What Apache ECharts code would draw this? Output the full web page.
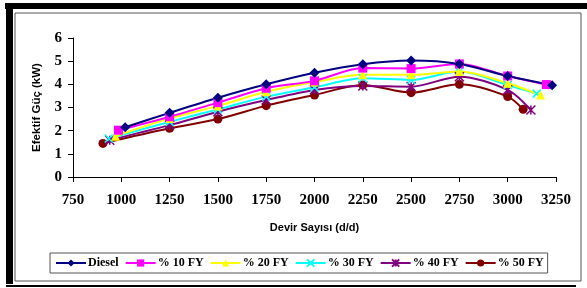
<!DOCTYPE html>
<html>
<head>
<meta charset="utf-8">
<script src="https://cdn.jsdelivr.net/npm/echarts@6/dist/echarts.min.js"></script>
<style>
  html, body { margin: 0; padding: 0; background: #fff; }
  #chart { width: 587px; height: 288px; }
</style>
</head>
<body>
<div id="chart"></div>
<script>
// devir sayisi (d/d) for each series
const rpmDiesel = [1020, 1250, 1500, 1750, 2000, 2250, 2500, 2750, 3000, 3230];
const rpm10 = [985, 1250, 1500, 1750, 2000, 2250, 2500, 2750, 3000, 3200];
const rpm20 = [970, 1250, 1500, 1750, 2000, 2250, 2500, 2750, 3000, 3170];
const rpm30 = [935, 1250, 1500, 1750, 2000, 2250, 2500, 2750, 3000, 3150];
const rpm40 = [940, 1250, 1500, 1750, 2000, 2250, 2500, 2750, 3000, 3120];
const rpm50 = [905, 1250, 1500, 1750, 2000, 2250, 2500, 2750, 3000, 3080];

// efektif guc (kW)
const powerDiesel = [2.15, 2.77, 3.42, 4.0, 4.5, 4.87, 5.03, 4.88, 4.36, 3.96];
const power10 = [2.02, 2.6, 3.21, 3.83, 4.15, 4.7, 4.68, 4.88, 4.36, 3.99];
const power20 = [1.76, 2.53, 3.07, 3.68, 4.1, 4.41, 4.41, 4.55, 4.05, 3.54];
const power30 = [1.66, 2.38, 2.92, 3.47, 3.87, 4.26, 4.19, 4.55, 3.97, 3.6];
const power40 = [1.59, 2.24, 2.82, 3.32, 3.76, 3.93, 3.9, 4.33, 3.76, 2.89];
const power50 = [1.45, 2.1, 2.5, 3.08, 3.54, 3.97, 3.64, 4.0, 3.47, 2.92];

const seriesNames = ['Diesel', '% 10 FY', '% 20 FY', '% 30 FY', '% 40 FY', '% 50 FY'];

const pairs = (xs, ys) => xs.map((x, i) => [x, ys[i]]);

const xMark = 'path://M0,0L10,10M10,0L0,10';
const starMark = 'path://M0,0L10,10M10,0L0,10M5,0L5,10';

function line(name, xs, ys, color, symbol, size, stroke) {
    return {
        name: name,
        type: 'line',
        data: pairs(xs, ys),
        smooth: 0.3,
        symbol: symbol,
        symbolSize: size,
        showAllSymbol: true,
        lineStyle: { color: color, width: 2 },
        itemStyle: stroke
            ? { color: color, borderColor: color, borderWidth: 1.5 }
            : { color: color },
        z: 2
    };
}

const myChart = echarts.init(document.getElementById('chart'));

const option = {
    animation: false,
    backgroundColor: '#fff',
    graphic: [
        { type: 'rect', shape: { x: 15, y: 13, width: 566, height: 268 }, style: { fill: 'none', stroke: '#555', lineWidth: 1 }, z: -1 },
        { type: 'rect', shape: { x: 5, y: 3, width: 582, height: 6 }, style: { fill: '#000' } },
        { type: 'rect', shape: { x: 6, y: 3, width: 7, height: 281 }, style: { fill: '#000' } },
        { type: 'rect', shape: { x: 6, y: 285, width: 570, height: 2 }, style: { fill: '#000' } }
    ],
    grid: { left: 73, right: 31, top: 38, bottom: 111 },
    legend: {
        data: seriesNames,
        left: 50,
        top: 253,
        padding: [4, 4, 4, 5],
        itemWidth: 30,
        itemHeight: 9,
        itemGap: 6,
        borderColor: '#555',
        borderWidth: 1,
        textStyle: { fontFamily: 'Liberation Serif', fontWeight: 'bold', fontSize: 12, color: '#000', padding: [0, 0, 0, -3] }
    },
    xAxis: {
        type: 'value',
        min: 750,
        max: 3250,
        interval: 250,
        name: 'Devir Sayısı (d/d)',
        nameLocation: 'middle',
        nameGap: 45,
        nameTextStyle: { fontFamily: 'Liberation Sans', fontWeight: 'bold', fontSize: 11, color: '#000' },
        axisLine: { lineStyle: { color: '#000', width: 1 } },
        axisTick: { show: true, length: 5, lineStyle: { color: '#000' } },
        axisLabel: {
            margin: 16, fontFamily: 'Liberation Serif', fontWeight: 'bold', fontSize: 15, color: '#000',
            formatter: v => String(v)
        },
        splitLine: { show: false }
    },
    yAxis: {
        type: 'value',
        min: 0,
        max: 6,
        interval: 1,
        name: 'Efektif Güç (kW)',
        nameLocation: 'middle',
        nameGap: 30,
        nameTextStyle: { fontFamily: 'Liberation Sans', fontWeight: 'bold', fontSize: 11.5, color: '#000' },
        axisLine: { show: true, lineStyle: { color: '#000', width: 1 } },
        axisTick: { show: true, length: 5, lineStyle: { color: '#000' } },
        axisLabel: { margin: 11, fontFamily: 'Liberation Serif', fontWeight: 'bold', fontSize: 15, color: '#000' },
        splitLine: { show: false }
    },
    series: [
        line(seriesNames[5], rpm50, power50, '#800000', 'circle', 9, false),
        line(seriesNames[4], rpm40, power40, '#800080', starMark, 9, true),
        line(seriesNames[3], rpm30, power30, '#00FFFF', xMark, 8, true),
        line(seriesNames[2], rpm20, power20, '#FFFF00', 'triangle', 9, false),
        line(seriesNames[1], rpm10, power10, '#FF00FF', 'rect', 9, false),
        line(seriesNames[0], rpmDiesel, powerDiesel, '#000080', 'diamond', 10, false)
    ]
};

myChart.setOption(option);
</script>
</body>
</html>
